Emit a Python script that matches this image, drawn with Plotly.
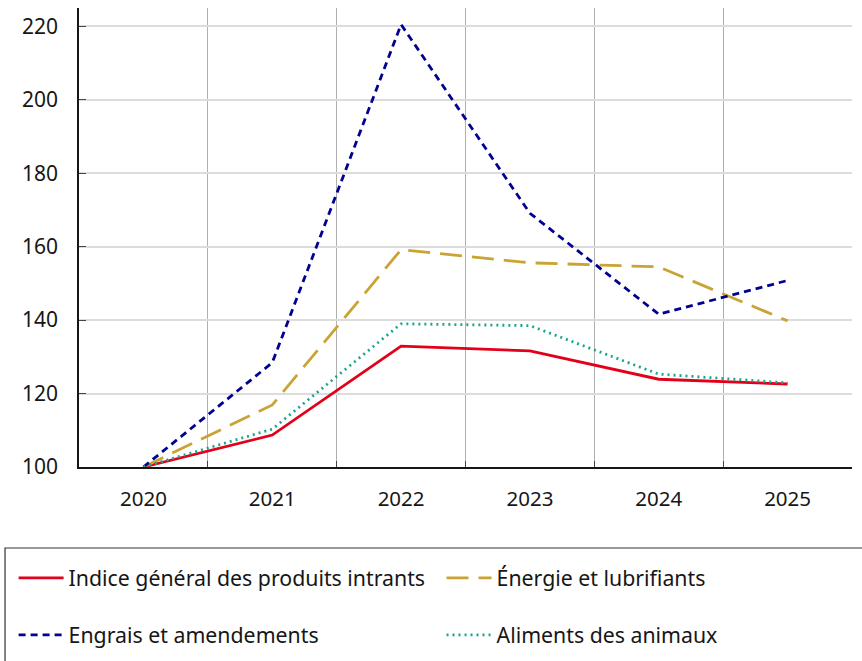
import plotly.graph_objects as go

years = ["2020", "2021", "2022", "2023", "2024", "2025"]
indice = [100, 108.7, 132.9, 131.6, 123.9, 122.6]
energie = [100, 116.9, 159.2, 155.6, 154.5, 139.8]
engrais = [100, 128.4, 220.5, 169.1, 141.6, 150.8]
aliments = [100, 110.3, 139.0, 138.5, 125.3, 122.9]
y_ticks = [100, 120, 140, 160, 180, 200, 220]

FONT = "Noto Sans"
fig = go.Figure()
fig.add_trace(go.Scatter(x=years, y=indice, mode="lines", name="Indice général des produits intrants",
                         line=dict(color="#E2001A", width=2.8), legend="legend"))
fig.add_trace(go.Scatter(x=years, y=energie, mode="lines", name="Énergie et lubrifiants",
                         line=dict(color="#C9A434", width=2.8, dash="22px,10px"), legend="legend2"))
fig.add_trace(go.Scatter(x=years, y=engrais, mode="lines", name="Engrais et amendements",
                         line=dict(color="#000091", width=2.8, dash="7px,5px"), legend="legend3"))
fig.add_trace(go.Scatter(x=years, y=aliments, mode="lines", name="Aliments des animaux",
                         line=dict(color="#1BA58D", width=2.8, dash="2px,4px"), legend="legend4"))

legend_common = dict(orientation="h", xanchor="left", yanchor="middle",
                     font=dict(family=FONT, size=21.3, color="#161616"),
                     bgcolor="rgba(0,0,0,0)", borderwidth=0, itemwidth=45)
col1, col2 = -0.0846, 0.469
row1, row2 = -0.2418, -0.366
fig.update_layout(
    width=862, height=661,
    margin=dict(l=79, r=10, t=8, b=194, autoexpand=False),
    paper_bgcolor="white", plot_bgcolor="white",
    font=dict(family=FONT, size=20, color="#161616"),
    showlegend=True,
    legend=dict(**legend_common, x=col1, y=row1),
    legend2=dict(**legend_common, x=col2, y=row1),
    legend3=dict(**legend_common, x=col1, y=row2),
    legend4=dict(**legend_common, x=col2, y=row2),
    xaxis=dict(type="category", tickson="boundaries", showgrid=True, gridcolor="#b0b0b0", gridwidth=1,
               showline=True, linecolor="#161616", linewidth=1.5, ticks="inside", ticklen=6,
               tickcolor="#444", ticklabelstandoff=13, tickfont=dict(size=20.5),
               range=[-0.5, 5.5], mirror=False, zeroline=False, automargin=False),
    yaxis=dict(range=[100, 225], tickvals=y_ticks, showgrid=True, gridcolor="#dcdcdc", gridwidth=1.5,
               showline=True, linecolor="#161616", linewidth=1.5, ticks="inside", ticklen=7,
               tickcolor="#444", ticklabelstandoff=15, tickfont=dict(size=21), zeroline=False,
               automargin=False),
    shapes=[dict(type="rect", xref="paper", yref="paper", x0=-0.0957, x1=1.05, y0=-0.45, y1=-0.1765,
                 line=dict(color="#333", width=1.2), fillcolor="rgba(0,0,0,0)", layer="above")],
)
fig.write_html("out.html", config={"displayModeBar": False},
               post_script="document.body.style.margin='0';document.body.style.overflow='hidden';")
